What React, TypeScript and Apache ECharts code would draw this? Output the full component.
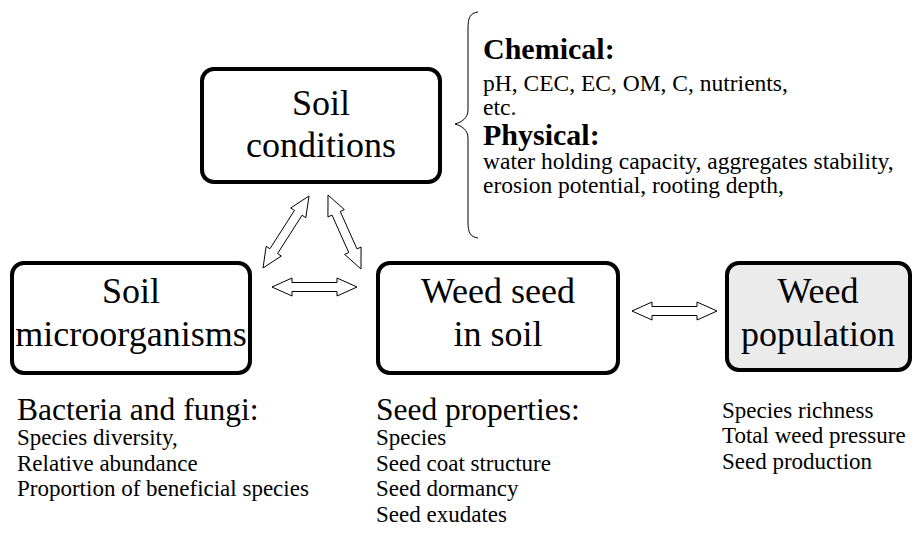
import React, { useEffect, useRef } from "react";
import * as echarts from "echarts";

// ---- Diagram content ----
const boxTitles: string[][] = [
  ["Soil", "conditions"],
  ["Soil", "microorganisms"],
  ["Weed seed", "in soil"],
  ["Weed", "population"],
];
const chemicalHeading = "Chemical:";
const chemicalItems = ["pH, CEC, EC, OM, C, nutrients,", "etc."];
const physicalHeading = "Physical:";
const physicalItems = [
  "water holding capacity, aggregates stability,",
  "erosion potential, rooting depth,",
];
const microbeHeading = "Bacteria and fungi:";
const microbeItems = [
  "Species diversity,",
  "Relative abundance",
  "Proportion of beneficial species",
];
const seedHeading = "Seed properties:";
const seedItems = ["Species", "Seed coat structure", "Seed dormancy", "Seed exudates"];
const populationItems = ["Species richness", "Total weed pressure", "Seed production"];

const FONT = "Liberation Serif";

function arrowPoints(ax: number, ay: number, bx: number, by: number) {
  const dx = bx - ax, dy = by - ay;
  const L = Math.hypot(dx, dy);
  const ux = dx / L, uy = dy / L;
  const nx = -uy, ny = ux;
  const h = 20, hw = 9, sw = 4.5;
  const p = (s: number, t: number) => [ax + ux * s + nx * t, ay + uy * s + ny * t];
  return [
    p(0, 0), p(h, hw), p(h, sw), p(L - h, sw), p(L - h, hw),
    p(L, 0), p(L - h, -hw), p(L - h, -sw), p(h, -sw), p(h, -hw),
  ];
}

function txt(text: string, x: number, y: number, size: number, align = "left", weight = "normal") {
  return {
    type: "text",
    style: {
      text, x, y, fill: "#000",
      fontSize: size, fontFamily: FONT, fontWeight: weight,
      align, verticalAlign: "middle",
    },
  };
}

export default function App() {
  const ref = useRef<HTMLDivElement>(null);
  useEffect(() => {
    document.body.style.margin = "0";
    const chart = echarts.init(ref.current!, null, { renderer: "svg" });
    const els: any[] = [];

    const boxes = [
      { x: 202, y: 69, w: 238, h: 113, fill: "#fff", lines: [103, 145], cx: 321 },
      { x: 12, y: 263, w: 238, h: 110, fill: "#fff", lines: [291, 334], cx: 131 },
      { x: 378, y: 263, w: 240, h: 110, fill: "#fff", lines: [291, 334], cx: 498 },
      { x: 727, y: 263, w: 183, h: 107, fill: "#ebebeb", lines: [291, 334], cx: 818 },
    ];
    boxes.forEach((b, i) => {
      els.push({
        type: "rect",
        shape: { x: b.x, y: b.y, width: b.w, height: b.h, r: 12 },
        style: { fill: b.fill, stroke: "#000", lineWidth: 4 },
      });
      boxTitles[i].forEach((t, j) => els.push(txt(t, b.cx, b.lines[j], 36, "center")));
    });

    const arrows = [
      [272, 287, 357, 287],
      [632, 311, 717, 311],
      [263, 268, 309, 196],
      [328, 195, 361, 269],
    ];
    arrows.forEach((a) =>
      els.push({
        type: "polygon",
        shape: { points: arrowPoints(a[0], a[1], a[2], a[3]) },
        style: { fill: "#fff", stroke: "#000", lineWidth: 1 },
      })
    );

    // curly brace
    const bs = { stroke: "#000", lineWidth: 1, fill: null };
    els.push({ type: "bezierCurve", shape: { x1: 478, y1: 12, cpx1: 470, cpy1: 13, cpx2: 468, cpy2: 18, x2: 468, y2: 28 }, style: bs });
    els.push({ type: "line", shape: { x1: 468, y1: 28, x2: 468, y2: 110 }, style: bs });
    els.push({ type: "bezierCurve", shape: { x1: 468, y1: 110, cpx1: 468, cpy1: 118, cpx2: 462, cpy2: 122, x2: 455, y2: 124 }, style: bs });
    els.push({ type: "bezierCurve", shape: { x1: 455, y1: 124, cpx1: 462, cpy1: 126, cpx2: 468, cpy2: 130, x2: 468, y2: 138 }, style: bs });
    els.push({ type: "line", shape: { x1: 468, y1: 138, x2: 468, y2: 222 }, style: bs });
    els.push({ type: "bezierCurve", shape: { x1: 468, y1: 222, cpx1: 468, cpy1: 232, cpx2: 470, cpy2: 237, x2: 478, y2: 238 }, style: bs });

    // right-top text
    els.push(txt(chemicalHeading, 483, 48, 30, "left", "bold"));
    chemicalItems.forEach((t, i) => els.push(txt(t, 483, 83 + i * 24, 23.5)));
    els.push(txt(physicalHeading, 483, 134, 30, "left", "bold"));
    physicalItems.forEach((t, i) => els.push(txt(t, 483, 161 + i * 24, 23.5)));

    // lower lists
    els.push(txt(microbeHeading, 17, 409, 31.5));
    microbeItems.forEach((t, i) => els.push(txt(t, 17, 437.5 + i * 25.5, 23)));
    els.push(txt(seedHeading, 376, 409, 31.5));
    seedItems.forEach((t, i) => els.push(txt(t, 376, 437.5 + i * 25.5, 23)));
    populationItems.forEach((t, i) => els.push(txt(t, 722, 410 + i * 25.5, 23)));

    chart.setOption({ animation: false, backgroundColor: "#fff", graphic: { elements: els } });
    return () => chart.dispose();
  }, []);
  return <div ref={ref} style={{ width: 915, height: 539 }} />;
}
